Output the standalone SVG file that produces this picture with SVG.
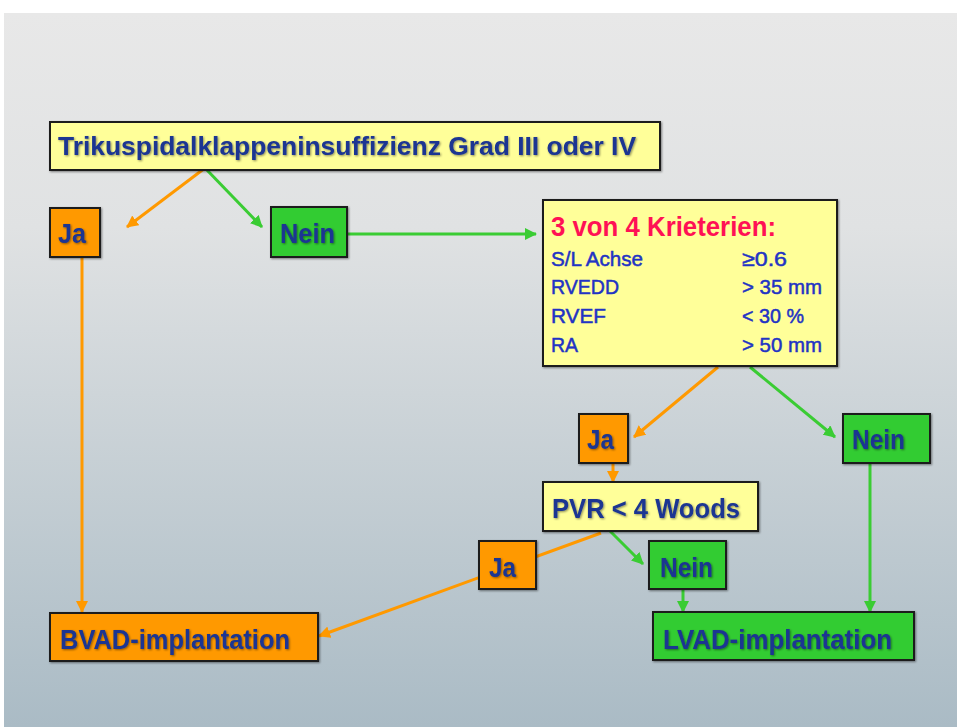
<svg xmlns="http://www.w3.org/2000/svg" width="957" height="727" viewBox="0 0 957 727">
<defs>
<linearGradient id="bg" x1="0" y1="0" x2="0" y2="1">
<stop offset="0" stop-color="#e8e8e8"/>
<stop offset="0.3" stop-color="#e0e2e3"/>
<stop offset="1" stop-color="#aabbc5"/>
</linearGradient>
<filter id="sh" x="-10%" y="-10%" width="130%" height="140%">
<feDropShadow dx="1" dy="1" stdDeviation="0.8" flood-color="#000" flood-opacity="0.45"/>
</filter>
<marker id="ao" markerWidth="12" markerHeight="12" refX="11" refY="6" orient="auto" markerUnits="userSpaceOnUse">
<path d="M0,0 L12,6 L0,12 Z" fill="#ff9900"/>
</marker>
<marker id="ag" markerWidth="12" markerHeight="12" refX="11" refY="6" orient="auto" markerUnits="userSpaceOnUse">
<path d="M0,0 L12,6 L0,12 Z" fill="#3acc33"/>
</marker>
</defs>
<style>
.box{stroke:#1e1e1e;stroke-width:2;filter:url(#sh)}
.y{fill:#ffff99}.o{fill:#ff9900}.g{fill:#33cc33}
.t{font-family:"Liberation Sans",Arial,sans-serif;font-weight:bold;fill:#1a3592;filter:url(#sh)}
.r{font-family:"Liberation Sans",Arial,sans-serif;font-size:21px;fill:#2233c4;stroke:#2233c4;stroke-width:0.5}
.h{font-family:"Liberation Sans",Arial,sans-serif;font-weight:bold;font-size:28px;fill:#ff1155}
.lo{stroke:#ff9900;stroke-width:3;fill:none;marker-end:url(#ao)}
.lg{stroke:#3acc33;stroke-width:3;fill:none;marker-end:url(#ag)}
</style>
<rect x="0" y="0" width="957" height="727" fill="#ffffff"/>
<rect x="4" y="13" width="953" height="714" fill="url(#bg)"/>

<g id="connectors">
<line class="lo" x1="205" y1="168" x2="127" y2="227"/>
<line class="lg" x1="205" y1="168" x2="262" y2="227"/>
<line class="lg" x1="347" y1="234" x2="536" y2="234"/>
<line class="lo" x1="82" y1="257" x2="82" y2="612"/>
<line class="lo" x1="718" y1="367" x2="634" y2="437"/>
<line class="lg" x1="750" y1="367" x2="835" y2="437"/>
<line class="lo" x1="613" y1="463" x2="613" y2="482"/>
<line class="lg" x1="610" y1="531" x2="643" y2="564"/>
<line class="lo" x1="601" y1="533" x2="319" y2="636"/>
<line class="lg" x1="683" y1="589" x2="683" y2="612"/>
<line class="lg" x1="870" y1="463" x2="870" y2="612"/>
</g>

<g id="n-trikuspidal">
<rect class="box y" x="50" y="122" width="610" height="48"/>
<text class="t" x="58" y="155" font-size="25" textLength="578" lengthAdjust="spacingAndGlyphs">Trikuspidalklappeninsuffizienz  Grad  III oder IV</text>
</g>
<g id="n-ja1">
<rect class="box o" x="50" y="208" width="50" height="49"/>
<text class="t" x="58" y="243" font-size="28" textLength="28" lengthAdjust="spacingAndGlyphs">Ja</text>
</g>
<g id="n-nein1">
<rect class="box g" x="271" y="207" width="76" height="50"/>
<text class="t" x="280" y="243" font-size="28" textLength="55" lengthAdjust="spacingAndGlyphs">Nein</text>
</g>
<g id="n-kriterien">
<rect class="box y" x="543" y="200" width="294" height="166"/>
<text class="h" x="551" y="236" textLength="225" lengthAdjust="spacingAndGlyphs">3 von 4 Krieterien:</text>
<text class="r" x="551" y="266" textLength="92" lengthAdjust="spacingAndGlyphs">S/L Achse</text>
<text class="r" x="742" y="266" textLength="45" lengthAdjust="spacingAndGlyphs">≥0.6</text>
<text class="r" x="551" y="294" textLength="68" lengthAdjust="spacingAndGlyphs">RVEDD</text>
<text class="r" x="742" y="294" textLength="80" lengthAdjust="spacingAndGlyphs">&gt; 35 mm</text>
<text class="r" x="551" y="323" textLength="55" lengthAdjust="spacingAndGlyphs">RVEF</text>
<text class="r" x="742" y="323" textLength="62" lengthAdjust="spacingAndGlyphs">&lt; 30 %</text>
<text class="r" x="551" y="352" textLength="27" lengthAdjust="spacingAndGlyphs">RA</text>
<text class="r" x="742" y="352" textLength="80" lengthAdjust="spacingAndGlyphs">&gt; 50 mm</text>
</g>
<g id="n-ja2">
<rect class="box o" x="579" y="414" width="49" height="49"/>
<text class="t" x="587" y="449" font-size="28" textLength="27" lengthAdjust="spacingAndGlyphs">Ja</text>
</g>
<g id="n-nein2">
<rect class="box g" x="843" y="414" width="87" height="49"/>
<text class="t" x="852" y="449" font-size="28" textLength="53" lengthAdjust="spacingAndGlyphs">Nein</text>
</g>
<g id="n-pvr">
<rect class="box y" x="543" y="482" width="215" height="49"/>
<text class="t" x="552" y="518" font-size="28" textLength="188" lengthAdjust="spacingAndGlyphs">PVR &lt; 4 Woods</text>
</g>
<g id="n-ja3">
<rect class="box o" x="479" y="541" width="57" height="48"/>
<text class="t" x="489" y="577" font-size="28" textLength="27" lengthAdjust="spacingAndGlyphs">Ja</text>
</g>
<g id="n-nein3">
<rect class="box g" x="649" y="541" width="77" height="48"/>
<text class="t" x="660" y="577" font-size="28" textLength="53" lengthAdjust="spacingAndGlyphs">Nein</text>
</g>
<g id="n-lvad">
<rect class="box g" x="653" y="612" width="261" height="48"/>
<text class="t" x="663" y="649" font-size="28" textLength="229" lengthAdjust="spacingAndGlyphs">LVAD-implantation</text>
</g>
<g id="n-bvad">
<rect class="box o" x="50" y="613" width="268" height="48"/>
<text class="t" x="60" y="649" font-size="28" textLength="230" lengthAdjust="spacingAndGlyphs">BVAD-implantation</text>
</g>
</svg>
